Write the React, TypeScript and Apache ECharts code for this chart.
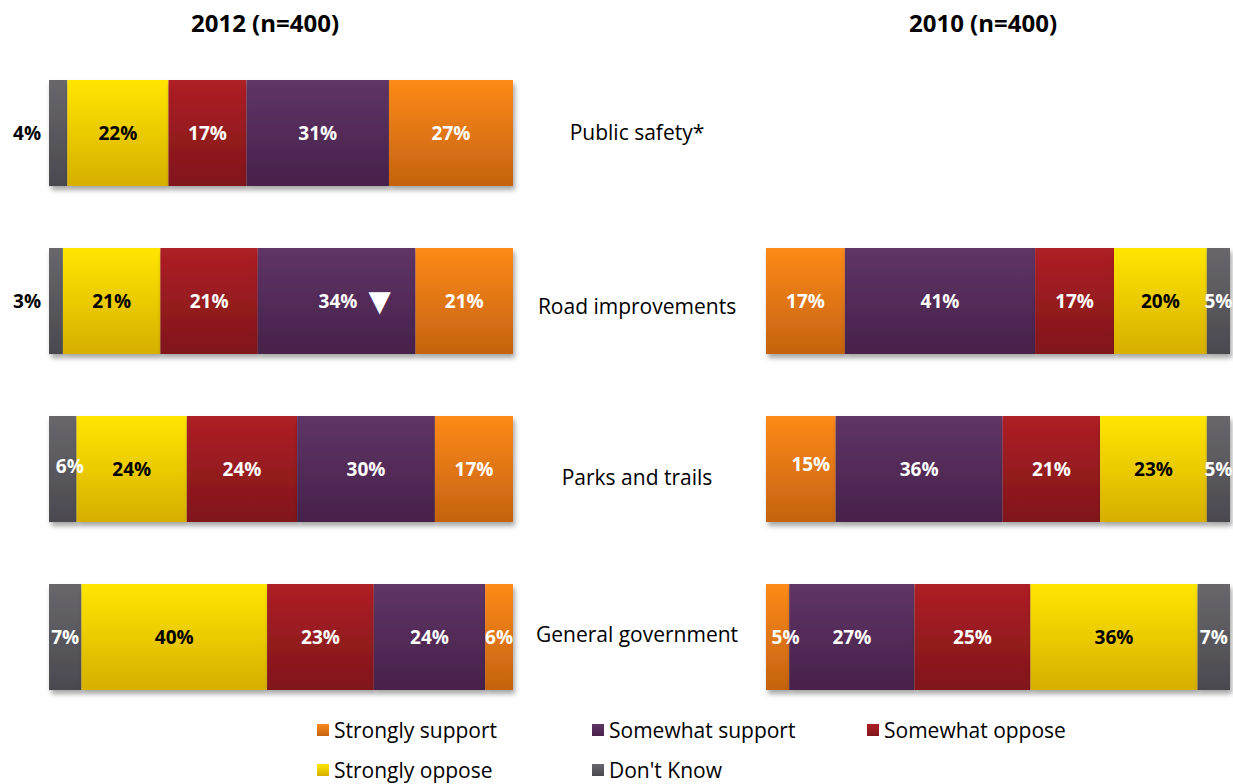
import React, { useEffect, useRef } from "react";
import * as echarts from "echarts";

const categories = ["Public safety*", "Road improvements", "Parks and trails", "General government"];
const seriesNames = ["Strongly support", "Somewhat support", "Somewhat oppose", "Strongly oppose", "Don't Know"];

// 2012 (n=400)
const y2012StronglySupport = [27, 21, 17, 6];
const y2012SomewhatSupport = [31, 34, 30, 24];
const y2012SomewhatOppose = [17, 21, 24, 23];
const y2012StronglyOppose = [22, 21, 24, 40];
const y2012DontKnow = [4, 3, 6, 7];

// 2010 (n=400) — not asked for Public safety
const y2010StronglySupport = [null, 17, 15, 5];
const y2010SomewhatSupport = [null, 41, 36, 27];
const y2010SomewhatOppose = [null, 17, 21, 25];
const y2010StronglyOppose = [null, 20, 23, 36];
const y2010DontKnow = [null, 5, 5, 7];

const titles = ["2012 (n=400)", "2010 (n=400)"];
const significantDrop2012 = [false, true, false, false]; // ▼ marker on Somewhat support

const FONT = "'Open Sans', 'Noto Sans', sans-serif";

const grad = (top: string, bottom: string) =>
  new echarts.graphic.LinearGradient(0, 0, 0, 1, [
    { offset: 0, color: top },
    { offset: 1, color: bottom },
  ]);

const colors: Record<string, [string, string]> = {
  "Strongly support": ["#FD8A1A", "#C4620F"],
  "Somewhat support": ["#5F3566", "#46214A"],
  "Somewhat oppose": ["#AD2025", "#80161A"],
  "Strongly oppose": ["#FFE600", "#D6AF00"],
  "Don't Know": ["#68676C", "#4A494F"],
};

// small manual label nudges seen in the original
const labelNudge: Record<string, [number, number]> = {
  "0|Don't Know|2": [7, -3],
  "1|Strongly support|2": [10, -5],
  "1|Strongly support|3": [8, 0],
};

export default function App() {
  const ref = useRef<HTMLDivElement>(null);

  useEffect(() => {
    if (!ref.current) return;
    const chart = echarts.init(ref.current, undefined, { renderer: "svg" });

    const set2012: Record<string, number[]> = {
      "Strongly support": y2012StronglySupport,
      "Somewhat support": y2012SomewhatSupport,
      "Somewhat oppose": y2012SomewhatOppose,
      "Strongly oppose": y2012StronglyOppose,
      "Don't Know": y2012DontKnow,
    };
    const set2010: Record<string, (number | null)[]> = {
      "Strongly support": y2010StronglySupport,
      "Somewhat support": y2010SomewhatSupport,
      "Somewhat oppose": y2010SomewhatOppose,
      "Strongly oppose": y2010StronglyOppose,
      "Don't Know": y2010DontKnow,
    };
    const sums = (set: Record<string, (number | null)[]>) =>
      categories.map((_, i) => seriesNames.reduce((s, n) => s + ((set[n][i] as number) || 0), 0));
    const sum2012 = sums(set2012);
    const sum2010 = sums(set2010);

    const baseLabel = {
      show: true,
      position: "inside",
      fontFamily: FONT,
      fontWeight: "bold",
      fontSize: 19,
    };

    const makeSeries = (
      set: Record<string, (number | null)[]>,
      totals: number[],
      order: string[],
      idx: number
    ) =>
      order.map((name) => ({
        type: "bar",
        name,
        stack: "s" + idx,
        xAxisIndex: idx,
        yAxisIndex: idx,
        barWidth: 106,
        itemStyle: {
          color: grad(colors[name][0], colors[name][1]),
          shadowColor: "rgba(0,0,0,0.35)",
          shadowBlur: 5,
          shadowOffsetY: 4,
          shadowOffsetX: 2,
        },
        label: {
          ...baseLabel,
          color: name === "Strongly oppose" ? "#000" : "#fff",
        },
        data: set[name].map((v, i) => {
          if (v == null) return { value: null };
          const item: any = { value: (v / totals[i]) * 100, raw: v };
          const nudge = labelNudge[idx + "|" + name + "|" + i];
          if (nudge) item.label = { offset: nudge };
          if (idx === 0 && name === "Don't Know" && v < 5) {
            item.label = { position: "left", distance: 8, color: "#000" };
          }
          if (idx === 0 && name === "Somewhat support" && significantDrop2012[i]) {
            item.label = {
              offset: [18, 0],
              formatter: "{v|" + v + "%}{g| }{t|▼}",
              rich: {
                v: { fontFamily: FONT, fontWeight: "bold", fontSize: 19, color: "#fff" },
                g: { width: 11 },
                t: { fontFamily: "DejaVu Sans", fontSize: 29, color: "#fff" },
              },
            };
          }
          return item;
        }),
      }));

    const order2012 = ["Don't Know", "Strongly oppose", "Somewhat oppose", "Somewhat support", "Strongly support"];
    const order2010 = ["Strongly support", "Somewhat support", "Somewhat oppose", "Strongly oppose", "Don't Know"];

    const series = [
      ...makeSeries(set2012, sum2012, order2012, 0),
      ...makeSeries(set2010, sum2010, order2010, 1),
    ].map((s: any) => ({
      ...s,
      label: {
        ...s.label,
        formatter: (p: any) => (p.data && p.data.raw != null ? p.data.raw + "%" : ""),
      },
    }));

    const legendPos: Record<string, [number, number]> = {
      "Strongly support": [317, 719],
      "Somewhat support": [592, 719],
      "Somewhat oppose": [867, 719],
      "Strongly oppose": [317, 759],
      "Don't Know": [592, 759],
    };

    // per-category vertical nudge of the centre labels (padding-top / padding-bottom)
    const catPad: [number, number][] = [[0, 2], [10, 0], [15, 0], [0, 6]];

    chart.setOption({
      animation: false,
      backgroundColor: "#fff",
      grid: [
        { left: 49, width: 464, top: 49, height: 672 },
        { left: 766, width: 464, top: 49, height: 672 },
      ],
      xAxis: [
        { type: "value", gridIndex: 0, min: 0, max: 100, show: false },
        { type: "value", gridIndex: 1, min: 0, max: 100, show: false },
      ],
      yAxis: [
        {
          type: "category",
          gridIndex: 0,
          data: categories,
          inverse: true,
          position: "right",
          axisLine: { show: false },
          axisTick: { show: false },
          axisLabel: {
            align: "center",
            margin: 124,
            formatter: (val: string, i: number) => "{c" + i + "|" + val + "}",
            rich: Object.fromEntries(
              catPad.map((p, i) => [
                "c" + i,
                {
                  fontFamily: FONT,
                  fontSize: 21,
                  color: "#000",
                  padding: [p[0], 0, p[1], 0],
                },
              ])
            ),
          },
        },
        {
          type: "category",
          gridIndex: 1,
          data: categories,
          inverse: true,
          show: false,
        },
      ],
      legend: seriesNames.map((n) => ({
        data: [n],
        left: legendPos[n][0],
        top: legendPos[n][1],
        padding: 0,
        icon: "rect",
        itemWidth: 12,
        itemHeight: 12,
        itemGap: 6,
        selectedMode: false,
        textStyle: { fontFamily: FONT, fontSize: 21, color: "#000", lineHeight: 22 },
      })),
      graphic: titles.map((t, i) => ({
        type: "text",
        x: i === 0 ? 265 : 983,
        y: 22,
        style: {
          text: t,
          textAlign: "center",
          textVerticalAlign: "middle",
          fontFamily: FONT,
          fontWeight: "bold",
          fontSize: 24,
          fill: "#000",
        },
      })),
      series,
    });

    return () => chart.dispose();
  }, []);

  return (
    <div
      ref={ref}
      style={{ position: "fixed", left: 0, top: 0, width: 1233, height: 784, background: "#fff" }}
    />
  );
}
